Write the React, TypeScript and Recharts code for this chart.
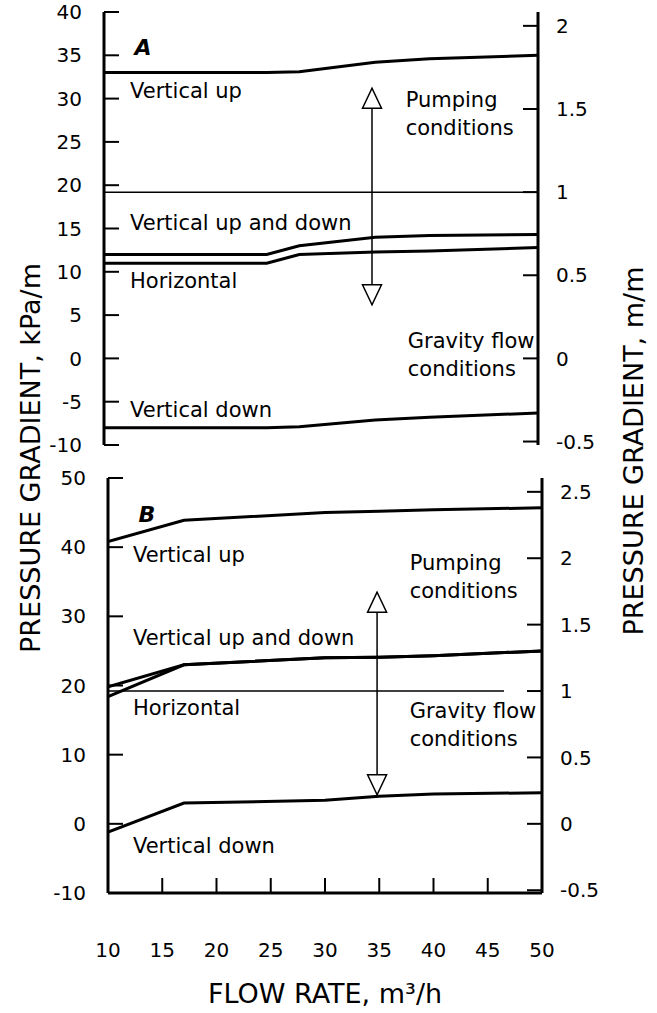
import React from "react"
import { LineChart, Line, XAxis, YAxis, ReferenceLine, ReferenceDot } from "recharts"

// panel A: flow rate (m3/h) vs pressure gradient (kPa/m)
const flowA = [10, 25, 28, 35, 40, 50]
const vertUpA = [33.0, 33.0, 33.1, 34.2, 34.6, 35.0]
const upDownA = [12.0, 12.0, 13.0, 14.0, 14.2, 14.3]
const horizA = [11.0, 11.0, 12.0, 12.3, 12.4, 12.8]
const vertDownA = [-8.0, -8.0, -7.9, -7.1, -6.8, -6.3]

// panel B
const flowB = [10, 17, 30, 35, 40, 50]
const vertUpB = [40.8, 43.9, 45.0, 45.2, 45.4, 45.7]
const upDownB = [19.8, 23.0, 24.0, 24.1, 24.3, 25.0]
const horizB = [18.4, 23.0, 24.0, 24.1, 24.3, 25.0]
const vertDownB = [-1.2, 3.0, 3.4, 4.0, 4.3, 4.5]

const flowTicks = [10, 15, 20, 25, 30, 35, 40, 45, 50]
const kpaTicksA = [-10, -5, 0, 5, 10, 15, 20, 25, 30, 35, 40]
const kpaTicksB = [-10, 0, 10, 20, 30, 40, 50]
const mTicksA = [-0.5, 0, 0.5, 1, 1.5, 2]
const mTicksB = [-0.5, 0, 0.5, 1, 1.5, 2, 2.5]

// kPa/m per m/m on the right hand scale
const KPA_PER_M = 19.2

const labelsA = [
  { text: ["A"], x: 12.8, y: 35.0, bold: true },
  { text: ["Vertical up"], x: 12.4, y: 30.1 },
  { text: ["Vertical up and down"], x: 12.4, y: 14.8 },
  { text: ["Horizontal"], x: 12.4, y: 8.1 },
  { text: ["Vertical down"], x: 12.4, y: -6.75 },
  { text: ["Pumping", "conditions"], x: 37.8, y: 29.0 },
  { text: ["Gravity flow", "conditions"], x: 38.0, y: 1.2 },
]

const labelsB = [
  { text: ["B"], x: 12.8, y: 43.6, bold: true },
  { text: ["Vertical up"], x: 12.3, y: 37.9 },
  { text: ["Vertical up and down"], x: 12.3, y: 25.9 },
  { text: ["Horizontal"], x: 12.3, y: 15.75 },
  { text: ["Vertical down"], x: 12.3, y: -4.2 },
  { text: ["Pumping", "conditions"], x: 37.8, y: 36.7 },
  { text: ["Gravity flow", "conditions"], x: 37.8, y: 15.3 },
]

const arrowA = { x: 34.7, top: 31.2, bottom: 6.2 }
const arrowB = { x: 34.8, top: 33.5, bottom: 4.2 }

const FONT = "'DejaVu Sans', sans-serif"

const toRows = (flow: number[], vu: number[], ud: number[], hz: number[], vd: number[]) =>
  flow.map((f, i) => ({ flow: f, vu: vu[i], ud: ud[i], hz: hz[i], vd: vd[i] }))

const Annotation = ({ cx, cy, lines, bold }: any) => (
  <text
    x={cx}
    y={cy}
    fontFamily={FONT}
    fontSize={bold ? 22 : 21}
    fontWeight={bold ? "bold" : "normal"}
    fontStyle={bold ? "italic" : "normal"}
    fill="#000"
  >
    {lines.map((l: string, i: number) => (
      <tspan key={i} x={cx} dy={i === 0 ? 0 : 28}>
        {l}
      </tspan>
    ))}
  </text>
)

const Triangle = ({ cx, cy, up }: any) => {
  const h = up ? 20 : -20
  return (
    <path
      d={`M${cx},${cy} L${cx - 9.5},${cy + h} L${cx + 9.5},${cy + h} Z`}
      fill="#fff"
      stroke="#000"
      strokeWidth={1.5}
    />
  )
}

const tickStyle = { fontFamily: FONT, fontSize: 20, fill: "#000" }
const axisLine = { stroke: "#000", strokeWidth: 3 }
const tickLine = { stroke: "#000", strokeWidth: 2 }

interface PanelProps {
  rows: any[]
  kpaMax: number
  kpaTicks: number[]
  mTicks: number[]
  labels: { text: string[]; x: number; y: number; bold?: boolean }[]
  arrow: { x: number; top: number; bottom: number }
  boundaryEnd: number
  height: number
  margin: { top: number; right: number; bottom: number; left: number }
  bottomHeight: number
  showFlowLabels: boolean
}

const Panel = ({
  rows,
  kpaMax,
  kpaTicks,
  mTicks,
  labels,
  arrow,
  boundaryEnd,
  height,
  margin,
  bottomHeight,
  showFlowLabels,
}: PanelProps) => (
  <LineChart width={657} height={height} data={rows} margin={margin}>
    <XAxis
      xAxisId="x"
      dataKey="flow"
      type="number"
      domain={[10, 50]}
      ticks={flowTicks}
      allowDataOverflow
      height={bottomHeight}
      axisLine={axisLine}
      tickLine={tickLine}
      tickSize={-15}
      tickMargin={65}
      tick={showFlowLabels ? tickStyle : false}
      label={
        showFlowLabels
          ? {
              value: "FLOW RATE, m³/h",
              position: "insideBottom",
              offset: 10,
              style: { fontFamily: FONT, fontSize: 27, fill: "#000" },
            }
          : undefined
      }
    />
    <XAxis
      xAxisId="xt"
      orientation="top"
      dataKey="flow"
      type="number"
      domain={[10, 50]}
      ticks={flowTicks}
      allowDataOverflow
      height={0}
      axisLine={axisLine}
      tickLine={tickLine}
      tickSize={-15}
      tick={false}
    />
    <YAxis
      yAxisId="l"
      type="number"
      domain={[-10, kpaMax]}
      ticks={kpaTicks}
      allowDataOverflow
      width={70}
      axisLine={axisLine}
      tickLine={tickLine}
      tickSize={-15}
      tickMargin={37}
      tick={tickStyle}
    />
    <YAxis
      yAxisId="r"
      orientation="right"
      type="number"
      domain={[-10 / KPA_PER_M, kpaMax / KPA_PER_M]}
      ticks={mTicks}
      allowDataOverflow
      width={70}
      axisLine={axisLine}
      tickLine={tickLine}
      tickSize={-15}
      tickMargin={33}
      tick={tickStyle}
    />
    <ReferenceLine
      xAxisId="x"
      yAxisId="r"
      segment={[
        { x: 10, y: 1 },
        { x: boundaryEnd, y: 1 },
      ]}
      stroke="#000"
      strokeWidth={1.5}
    />
    {(["vu", "ud", "hz", "vd"] as const).map((k) => (
      <Line
        key={k}
        xAxisId="x"
        yAxisId="l"
        type="linear"
        dataKey={k}
        stroke="#000"
        strokeWidth={3}
        dot={false}
        isAnimationActive={false}
      />
    ))}
    <ReferenceLine
      xAxisId="x"
      yAxisId="l"
      segment={[
        { x: arrow.x, y: arrow.top },
        { x: arrow.x, y: arrow.bottom },
      ]}
      stroke="#000"
      strokeWidth={1.5}
    />
    <ReferenceDot
      xAxisId="x"
      yAxisId="l"
      x={arrow.x}
      y={arrow.top}
      r={0}
      shape={(p: any) => <Triangle cx={p.cx} cy={p.cy} up />}
    />
    <ReferenceDot
      xAxisId="x"
      yAxisId="l"
      x={arrow.x}
      y={arrow.bottom}
      r={0}
      shape={(p: any) => <Triangle cx={p.cx} cy={p.cy} />}
    />
    {labels.map((l, i) => (
      <ReferenceDot
        key={i}
        xAxisId="x"
        yAxisId="l"
        x={l.x}
        y={l.y}
        r={0}
        shape={(p: any) => <Annotation cx={p.cx} cy={p.cy} lines={l.text} bold={l.bold} />}
      />
    ))}
  </LineChart>
)

export default function App() {
  const rowsA = toRows(flowA, vertUpA, upDownA, horizA, vertDownA)
  const rowsB = toRows(flowB, vertUpB, upDownB, horizB, vertDownB)
  return (
    <div style={{ position: "absolute", left: 0, top: 0, width: 657, height: 1013, background: "#fff" }}>
      <div style={{ position: "absolute", left: 0, top: 0 }}>
        <Panel
          rows={rowsA}
          kpaMax={40}
          kpaTicks={kpaTicksA}
          mTicks={mTicksA}
          labels={labelsA}
          arrow={arrowA}
          boundaryEnd={50}
          height={460}
          margin={{ top: 12, right: 49, bottom: 15, left: 34 }}
          bottomHeight={0}
          showFlowLabels={false}
        />
      </div>
      <div style={{ position: "absolute", left: 0, top: 460 }}>
        <Panel
          rows={rowsB}
          kpaMax={50}
          kpaTicks={kpaTicksB}
          mTicks={mTicksB}
          labels={labelsB}
          arrow={arrowB}
          boundaryEnd={46.5}
          height={553}
          margin={{ top: 18, right: 45, bottom: 0, left: 38 }}
          bottomHeight={120}
          showFlowLabels
        />
      </div>
      <svg
        width={657}
        height={1013}
        style={{ position: "absolute", left: 0, top: 0, pointerEvents: "none" }}
      >
        <text
          transform="translate(40,458) rotate(-90)"
          textAnchor="middle"
          fontFamily={FONT}
          fontSize={27}
          fill="#000"
        >
          PRESSURE GRADIENT, kPa/m
        </text>
        <text
          transform="translate(643,451) rotate(-90)"
          textAnchor="middle"
          fontFamily={FONT}
          fontSize={27}
          fill="#000"
        >
          PRESSURE GRADIENT, m/m
        </text>
      </svg>
    </div>
  )
}
